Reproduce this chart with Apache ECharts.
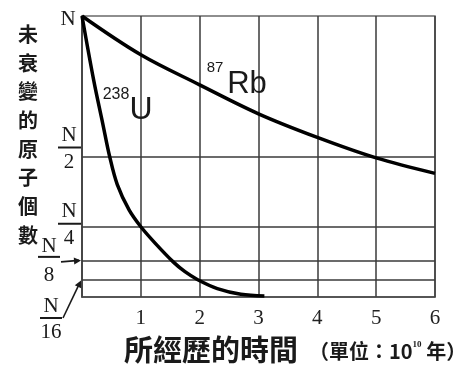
<!DOCTYPE html>
<html><head><meta charset="utf-8">
<script src="https://cdn.jsdelivr.net/npm/echarts@6/dist/echarts.min.js"></script>
<style>html,body{margin:0;padding:0;background:#fff}#c{width:463px;height:370px}</style>
</head><body><div id="c"></div>
<script>
// ---- data ----
const xTicks = [0, 1, 2, 3, 4, 5, 6];
const rbX = [0, 1, 2, 3, 4, 5, 6];
const rbY = [1, 0.862, 0.755, 0.652, 0.568, 0.495, 0.44];
const uX = [0, 0.2, 0.35, 0.47, 0.6, 0.8, 1.0, 1.25, 1.55, 1.75, 1.96, 2.3, 2.7, 3.1];
const uY = [1, 0.77, 0.62, 0.5, 0.4, 0.31, 0.25, 0.19, 0.125, 0.09, 0.0625, 0.03, 0.01, 0.004];
const fracValues = [0.5, 0.25, 0.125, 0.0625];
const fracDenoms = ['2', '4', '8', '16'];
const topLabel = 'N';
const yName = '未衰變的原子個數';
const xName = '所經歷的時間';
const unitPre = '（單位：10';
const unitSup = '10';
const unitPost = ' 年）';
const rbMass = '87', rbSym = 'Rb';
const uMass = '238', uSym = 'U';

const SERIF = '"Liberation Serif","DejaVu Serif",serif';
const SANS = '"Liberation Sans",Arial,sans-serif';
const CJK = '"Noto Sans CJK TC","Noto Sans CJK SC",sans-serif';

const chart = echarts.init(document.getElementById('c'), null, {renderer: 'canvas'});
const gridCol = '#3a3a3a';
chart.setOption({
  animation: false,
  backgroundColor: '#fff',
  grid: {left: 82, top: 16, right: 28, bottom: 73, show: true, borderColor: '#6a6a6a', borderWidth: 1.5},
  xAxis: {
    type: 'value', min: 0, max: 6, interval: 1,
    axisLine: {show: true, lineStyle: {color: '#444', width: 1.5}},
    axisTick: {show: false},
    splitLine: {show: true, lineStyle: {color: gridCol, width: 1.5}},
    axisLabel: {
      margin: 11, color: '#222', fontFamily: SERIF, fontSize: 21,
      formatter: v => (v === 0 ? '' : String(xTicks[v]))
    }
  },
  yAxis: {
    type: 'value', min: 0, max: 1,
    axisLine: {show: true, lineStyle: {color: '#444', width: 1.5}},
    axisTick: {show: false}, axisLabel: {show: false}, splitLine: {show: false}
  },
  series: [
    {
      type: 'line', data: rbX.map((x, i) => [x, rbY[i]]),
      smooth: 0.35, showSymbol: false,
      lineStyle: {color: '#000', width: 3.5}, z: 5,
      markLine: {
        silent: true, symbol: 'none', label: {show: false},
        lineStyle: {color: gridCol, width: 1.5, type: 'solid'},
        data: fracValues.map(v => ({yAxis: v}))
      }
    },
    {
      type: 'line', data: uX.map((x, i) => [x, uY[i]]),
      smooth: 0.35, showSymbol: false,
      lineStyle: {color: '#000', width: 3.5}, z: 5
    }
  ]
});

const P = (x, y) => chart.convertToPixel({gridIndex: 0}, [x, y]);
const g = [];
function txt(s, x, y, font, align) {
  g.push({type: 'text', x: x, y: y, z: 50,
    style: {text: s, font: font, fill: '#1a1a1a', align: align || 'center', verticalAlign: 'middle'}});
}
function ln(x1, y1, x2, y2, w) {
  g.push({type: 'line', z: 50, shape: {x1, y1, x2, y2}, style: {stroke: '#1a1a1a', lineWidth: w || 2}});
}
function arrowHead(x, y, ang) {
  const L = 7, W = 3.5;
  const c = Math.cos(ang), s = Math.sin(ang);
  const bx = x - L * c, by = y - L * s;
  g.push({type: 'polygon', z: 50, shape: {points: [[x, y], [bx - W * s, by + W * c], [bx + W * s, by - W * c]]},
    style: {fill: '#1a1a1a'}});
}

const o = P(0, 1);
const yFont = '21px ' + SERIF;
// top N
txt(topLabel, o[0] - 14, o[1] + 3, yFont);
// N/2 and N/4 fractions beside the axis
[0, 1].forEach(i => {
  const p = P(0, fracValues[i]);
  const by = p[1] - (i === 0 ? 9 : 3);
  txt(topLabel, 69, by - 12, yFont);
  ln(58, by, 81, by, 2);
  txt(fracDenoms[i], 69, by + 15, yFont);
});
// N/8 with arrow
{
  const p = P(0, fracValues[2]);
  const by = p[1] - 5;
  txt(topLabel, 49, by - 10, yFont);
  ln(38, by, 60, by, 2);
  txt(fracDenoms[2], 49, by + 19, yFont);
  ln(61, p[1], p[0] - 3, p[1] - 1.5, 1.6);
  arrowHead(p[0] - 1, p[1] - 1.5, Math.atan2(-1.5, p[0] - 1 - 61));
}
// N/16 with arrow
{
  const p = P(0, fracValues[3]);
  const by = 318;
  txt(topLabel, 51, by - 12, yFont);
  ln(40, by, 62, by, 2);
  txt(fracDenoms[3], 51, by + 14, yFont);
  ln(63, by, p[0] - 2, p[1] + 3, 1.6);
  arrowHead(p[0] - 1, p[1] + 1, Math.atan2(p[1] + 1 - by, p[0] - 1 - 63));
}
// vertical y name
g.push({type: 'text', x: 28, y: 20, z: 50,
  style: {text: yName.split('').join('\n'), font: 'bold 20px ' + CJK, fill: '#1a1a1a',
    align: 'center', verticalAlign: 'top', lineHeight: 28.7}});
// x name and unit
txt(xName, 124, 350, 'bold 29px ' + CJK, 'left');
g.push({type: 'text', x: 309, y: 351, z: 50,
  style: {
    text: '{a|' + unitPre + '}{s|' + unitSup + '}{a|' + unitPost + '}',
    align: 'left', verticalAlign: 'middle',
    rich: {
      a: {font: 'bold 20px ' + CJK, fill: '#1a1a1a', verticalAlign: 'middle'},
      s: {font: 'bold 9px ' + SERIF, fill: '#1a1a1a', verticalAlign: 'top', padding: [0, 0, 12, 0]}
    }
  }});
// curve annotations
txt(uMass, 116, 95, '16px ' + SANS, 'center');
txt(uSym, 141, 110, '32px ' + SANS, 'center');
txt(rbMass, 215, 68, '15px ' + SANS, 'center');
txt(rbSym, 247, 84, '31px ' + SANS, 'center');

chart.setOption({graphic: g});
</script>
</body></html>
